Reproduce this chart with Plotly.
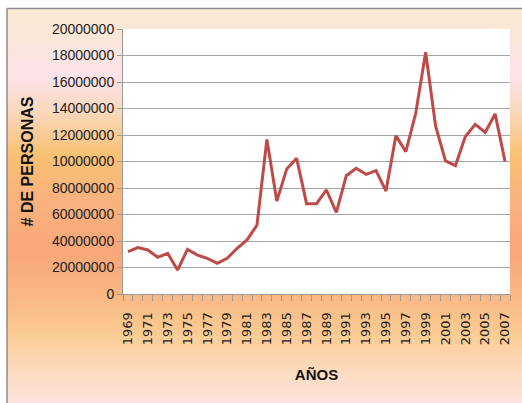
import plotly.graph_objects as go

years = list(range(1969, 2008))
personas = [32.0e6, 35.0e6, 33.2e6, 27.7e6, 30.7e6, 18.1e6, 33.7e6, 29.4e6, 26.9e6, 23.1e6,
            26.9e6, 34.5e6, 40.8e6, 52.0e6, 116.7e6, 70.2e6, 94.4e6, 102.4e6, 68.2e6, 68.2e6,
            78.5e6, 61.6e6, 89.3e6, 94.9e6, 90.3e6, 93.1e6, 77.7e6, 119.5e6, 107.4e6, 136.4e6,
            182.4e6, 126.8e6, 100.4e6, 96.9e6, 118.8e6, 128.1e6, 122.0e6, 135.9e6, 99.9e6]
y_tickvals = [0, 20e6, 40e6, 60e6, 80e6, 100e6, 120e6, 140e6, 160e6, 180e6, 200e6]
y_ticktext = ["0", "20000000", "40000000", "60000000", "80000000", "10000000",
              "12000000", "14000000", "16000000", "18000000", "20000000"]
x_tickvals = list(range(1969, 2008, 2))
x_ticktext = [str(v) for v in x_tickvals]

W, H = 522, 403
L, R, T, B = 123, 12, 29, 109
pw, ph = W - L - R, H - T - B

def px2x(px):
    return (px - L) / pw

def px2y(py):
    return (H - B - py) / ph

stops = [(9, (0xFB, 0xE9, 0xD4)), (40, (0xFB, 0xE6, 0xDA)), (75, (0xFC, 0xE3, 0xEA)),
         (110, (0xFA, 0xD9, 0xC0)), (155, (0xF9, 0xC1, 0x72)), (195, (0xF9, 0xB4, 0x7E)),
         (250, (0xF9, 0xA6, 0x79)), (300, (0xFA, 0xB9, 0x84)), (335, (0xFB, 0xCC, 0x94)),
         (370, (0xFC, 0xDA, 0xBF)), (403, (0xFC, 0xE3, 0xDD))]

def col_at(y):
    for (y0, c0), (y1, c1) in zip(stops[:-1], stops[1:]):
        if y0 <= y <= y1:
            t = (y - y0) / (y1 - y0)
            return "rgb(%d,%d,%d)" % tuple(round(a + (b - a) * t) for a, b in zip(c0, c1))
    return "rgb(%d,%d,%d)" % stops[-1][1]

shapes = []
step = 3
y = 9
while y < H:
    y2 = min(y + step, H)
    shapes.append(dict(type="rect", xref="paper", yref="paper", layer="below",
                       x0=px2x(7), x1=px2x(W), y0=px2y(y2 + 0.5), y1=px2y(y),
                       fillcolor=col_at(y + step / 2), line=dict(width=0)))
    y = y2
# grey frame lines (top and left)
shapes.append(dict(type="line", xref="paper", yref="paper", layer="below",
                   x0=px2x(7), x1=px2x(W), y0=px2y(8.5), y1=px2y(8.5),
                   line=dict(color="#8C8C8C", width=1.5)))
shapes.append(dict(type="line", xref="paper", yref="paper", layer="below",
                   x0=px2x(7), x1=px2x(7), y0=px2y(8.5), y1=px2y(H),
                   line=dict(color="#8C8C8C", width=1.5)))
# white plot area
shapes.append(dict(type="rect", xref="paper", yref="paper", layer="below",
                   x0=0, x1=1, y0=0, y1=1, fillcolor="white", line=dict(width=0)))

fig = go.Figure()
fig.add_trace(go.Scatter(x=years, y=personas, mode="lines",
                         line=dict(color="#BE4B48", width=3), showlegend=False))

fig.update_layout(
    width=W, height=H,
    margin=dict(l=L, r=R, t=T, b=B, autoexpand=False),
    paper_bgcolor="white",
    plot_bgcolor="white",
    shapes=shapes,
    xaxis=dict(
        range=[1968.5, 2007.5], automargin=False,
        tickmode="array", tickvals=x_tickvals, ticktext=x_ticktext,
        tickangle=-90, ticks="", showgrid=False, zeroline=False,
        ticklabelstandoff=12,
        showline=True, linecolor="#9A9A9A", linewidth=1,
        tickfont=dict(family="DejaVu Sans", size=13, color="#222222"),
        minor=dict(tickmode="linear", tick0=1968.5, dtick=1, ticks="outside",
                   ticklen=6, tickcolor="#9A9A9A", tickwidth=1, showgrid=False),
        title=dict(text="<b>AÑOS</b>", standoff=25,
                   font=dict(family="Liberation Sans, Arial", size=15, color="#111111")),
    ),
    yaxis=dict(
        range=[0, 200e6], automargin=False,
        tickmode="array", tickvals=y_tickvals, ticktext=y_ticktext,
        ticks="outside", ticklen=5, tickcolor="#9A9A9A",
        showgrid=True, gridcolor="#A6A6A6", gridwidth=1, zeroline=False,
        showline=True, linecolor="#9A9A9A", linewidth=1,
        tickfont=dict(family="Liberation Sans Narrow, Arial Narrow, Liberation Sans", size=14, color="#222222"),
        title=dict(text="<b># DE PERSONAS</b>", standoff=14,
                   font=dict(family="Liberation Sans, Arial", size=16, color="#111111")),
    ),
)

fig.write_html("out.html", config={"displayModeBar": False},
               post_script="document.body.style.margin='0';document.body.style.overflow='hidden';")
